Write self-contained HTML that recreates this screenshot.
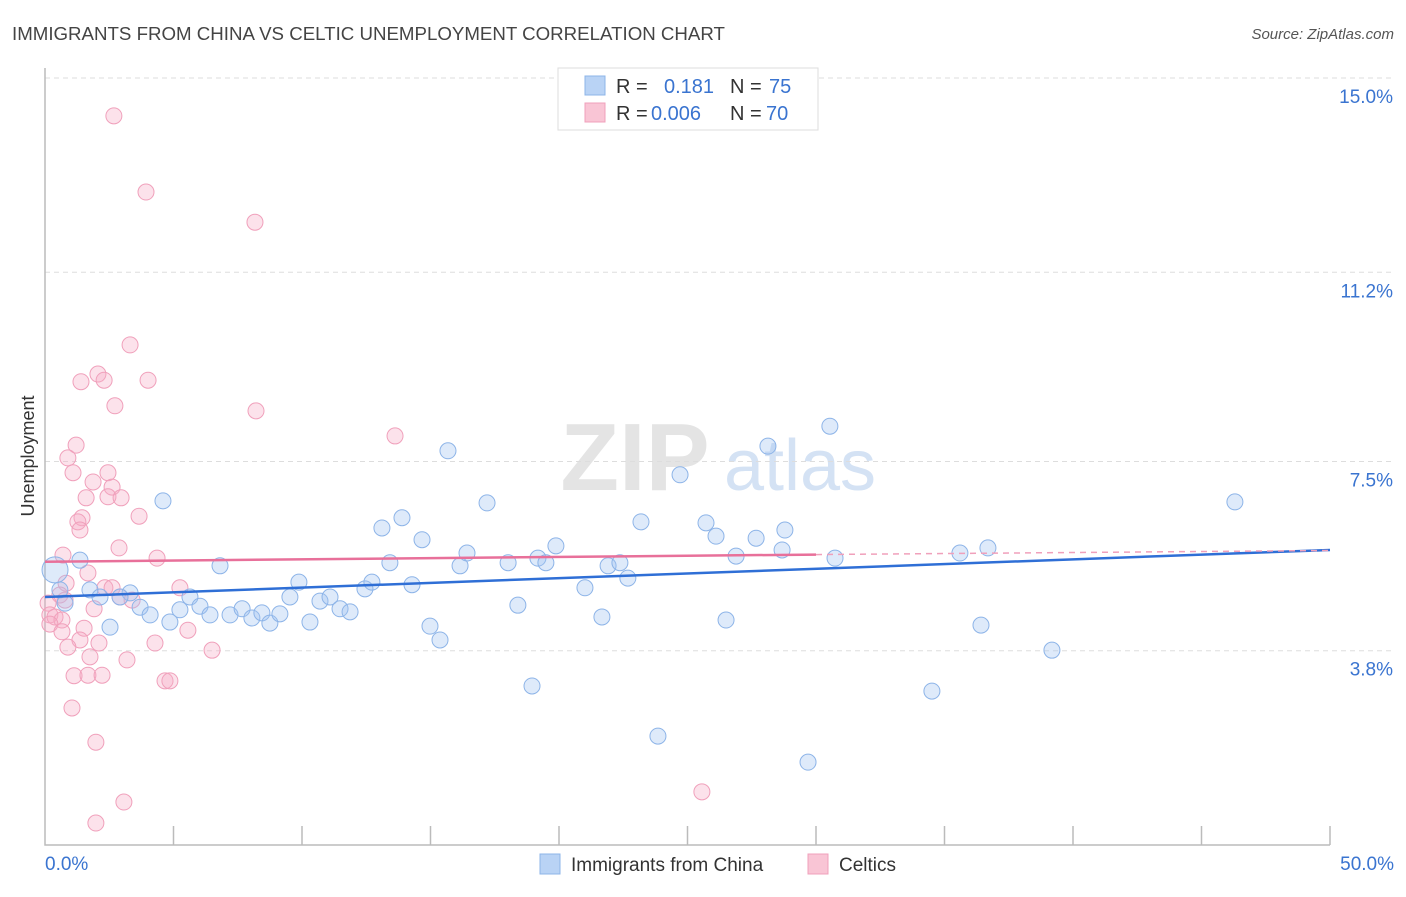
<!DOCTYPE html>
<html><head><meta charset="utf-8"><style>
body{margin:0;background:#fff;font-family:"Liberation Sans",sans-serif;}
svg text{font-family:"Liberation Sans",sans-serif;}
</style></head><body>
<svg id="chart" width="1406" height="892" xmlns="http://www.w3.org/2000/svg">
<text x="12" y="40" font-size="18.7" fill="#444">IMMIGRANTS FROM CHINA VS CELTIC UNEMPLOYMENT CORRELATION CHART</text>
<text x="1394" y="39" font-size="15" fill="#555" font-style="italic" text-anchor="end">Source: ZipAtlas.com</text>
<text x="34" y="456" font-size="18" fill="#333" text-anchor="middle" transform="rotate(-90 34 456)">Unemployment</text>
<g><text x="635" y="490" font-size="96" fill="#e4e4e4" text-anchor="middle" font-family="Liberation Serif" font-weight="bold">ZIP</text><text x="800" y="490" font-size="72" fill="#d4e2f4" text-anchor="middle">atlas</text></g>
<g id="grid"></g><g id="axes"></g><g id="pts"></g><g id="trend"></g>
<g>
<rect x="558" y="68" width="260" height="62" fill="#fff" stroke="#ddd"/>
<rect x="585" y="76" width="20" height="19" fill="#b9d3f5" stroke="#8db4e8"/>
<rect x="585" y="103" width="20" height="19" fill="#f9c5d5" stroke="#f0a0bb"/>
<text x="616" y="93" font-size="20" fill="#333">R =</text><text x="664" y="93" font-size="20" fill="#3a74d0">0.181</text>
<text x="730" y="93" font-size="20" fill="#333">N =</text><text x="769" y="93" font-size="20" fill="#3a74d0">75</text>
<text x="616" y="120" font-size="20" fill="#333">R =</text><text x="651" y="120" font-size="20" fill="#3a74d0">0.006</text>
<text x="730" y="120" font-size="20" fill="#333">N =</text><text x="766" y="120" font-size="20" fill="#3a74d0">70</text>
</g>
<g>
<rect x="540" y="854" width="20" height="20" fill="#b9d3f5" stroke="#8db4e8"/>
<text x="571" y="871" font-size="19" fill="#333">Immigrants from China</text>
<rect x="808" y="854" width="20" height="20" fill="#f9c5d5" stroke="#f0a0bb"/>
<text x="839" y="871" font-size="19" fill="#333">Celtics</text>
</g>
</svg>
<script>
const yTicks=[3.8,7.5,11.2,15.0];
const yTickLabels=["3.8%","7.5%","11.2%","15.0%"];
const xTickLabels=["0.0%","50.0%"];
const blueX=[0.39,0.58,1.36,0.78,1.75,2.14,2.53,3.31,2.92,3.70,4.09,4.59,4.86,5.25,5.64,6.03,6.42,6.81,7.20,7.67,8.05,8.44,8.75,9.14,9.53,9.88,10.31,10.70,11.09,11.48,11.87,12.45,12.72,13.11,13.42,13.89,14.28,14.67,14.98,15.37,15.68,16.15,16.42,17.20,18.02,18.40,18.95,19.18,19.49,19.88,21.01,21.67,21.91,22.37,22.68,23.19,23.85,24.71,25.72,26.11,26.50,26.89,27.67,28.13,28.68,28.79,29.69,30.54,30.74,34.51,35.60,36.42,36.69,39.18,46.30];
const blueY=[5.38,4.99,5.57,4.73,4.99,4.85,4.26,4.93,4.85,4.65,4.50,6.73,4.36,4.60,4.85,4.67,4.50,5.46,4.50,4.62,4.44,4.54,4.34,4.52,4.85,5.14,4.36,4.77,4.85,4.62,4.56,5.01,5.14,6.20,5.52,6.40,5.09,5.97,4.28,4.01,7.71,5.46,5.71,6.69,5.52,4.69,3.11,5.61,5.52,5.85,5.03,4.46,5.46,5.52,5.22,6.32,2.13,7.24,6.30,6.04,4.40,5.65,6.00,7.80,5.77,6.16,1.62,8.19,5.61,3.01,5.71,4.30,5.81,3.81,6.71];
const pinkX=[2.68,3.93,8.17,3.31,2.06,2.30,1.40,4.01,2.72,8.21,13.62,1.21,0.89,1.09,2.45,1.87,2.61,1.60,2.45,2.96,1.44,1.28,1.36,3.66,0.70,2.88,4.36,1.67,0.82,2.33,2.61,5.25,0.58,0.78,2.92,3.39,0.12,1.91,0.19,0.39,0.66,0.19,0.66,1.52,5.56,1.36,2.10,4.28,0.89,1.75,6.50,3.19,1.13,1.67,2.22,4.67,4.86,1.05,1.98,3.07,1.98,25.56];
const pinkY=[14.26,12.77,12.18,9.78,9.21,9.09,9.06,9.09,8.59,8.49,8.00,7.82,7.57,7.28,7.28,7.10,7.00,6.79,6.81,6.79,6.40,6.32,6.16,6.43,5.67,5.81,5.61,5.32,5.12,5.03,5.03,5.03,4.89,4.79,4.85,4.79,4.73,4.62,4.50,4.46,4.40,4.32,4.17,4.24,4.20,4.01,3.95,3.95,3.87,3.68,3.81,3.62,3.31,3.32,3.32,3.21,3.21,2.68,2.01,0.84,0.43,1.04];
const blueTrend=[4.85,5.77];
const pinkTrend=[5.54,5.68,5.76];
const NS="http://www.w3.org/2000/svg";
const X0=45,X1=1330,Y0=845,Y1=78;
const sx=v=>X0+(v/50)*(X1-X0);
const sy=v=>Y0-(v/15)*(Y0-Y1);
function mk(p,t,a){const e=document.createElementNS(NS,t);for(const k in a)e.setAttribute(k,a[k]);document.getElementById(p).appendChild(e);return e;}
yTicks.forEach((v,i)=>{
 const l=mk('grid','line',{x1:X0,x2:1394,y1:sy(v),y2:sy(v),stroke:'#ddd','stroke-dasharray':'5,4'});
 
 
 const t=mk('grid','text',{x:1393,y:sy(v)+25,'font-size':19,fill:'#3a74d0','text-anchor':'end'});t.textContent=yTickLabels[i];
 
 
});
const ax=mk('axes','path',{d:`M${X0} 68V${Y0}H${X1}`,fill:'none',stroke:'#bbb','stroke-width':1.5});


for(let i=1;i<=10;i++){const t=mk('axes','line',{x1:sx(i*5),x2:sx(i*5),y1:826,y2:Y0,stroke:'#bbb','stroke-width':1.5});
 
 }
[[0,'start',45],[50,'end',1394]].forEach((a,i)=>{const t=mk('axes','text',{x:a[2],y:870,'font-size':19,fill:'#3a74d0','text-anchor':a[1]});t.textContent=xTickLabels[i];
 
 });
pinkX.forEach((x,i)=>{const c=mk('pts','circle',{cx:sx(x),cy:sy(pinkY[i]),r:8,fill:'rgba(246,172,197,0.35)',stroke:'#f0a0bb','stroke-width':1});
 
 });
blueX.forEach((x,i)=>{const c=mk('pts','circle',{cx:sx(x),cy:sy(blueY[i]),r:i==0?13:8,fill:'rgba(160,196,240,0.35)',stroke:'#8db4e8','stroke-width':1});
 
 });
const bl=mk('trend','line',{x1:sx(0),y1:sy(blueTrend[0]),x2:sx(50),y2:sy(blueTrend[1]),stroke:'#2f6fd6','stroke-width':2.5});


const pl=mk('trend','line',{x1:sx(0),y1:sy(pinkTrend[0]),x2:sx(30),y2:sy(pinkTrend[1]),stroke:'#e8709a','stroke-width':2.5});


const pd=mk('trend','line',{x1:sx(30),y1:sy(pinkTrend[1]),x2:sx(50),y2:sy(pinkTrend[2]),stroke:'#f0a0bb','stroke-width':1.5,'stroke-dasharray':'6,5'});


</script>
</body></html>
